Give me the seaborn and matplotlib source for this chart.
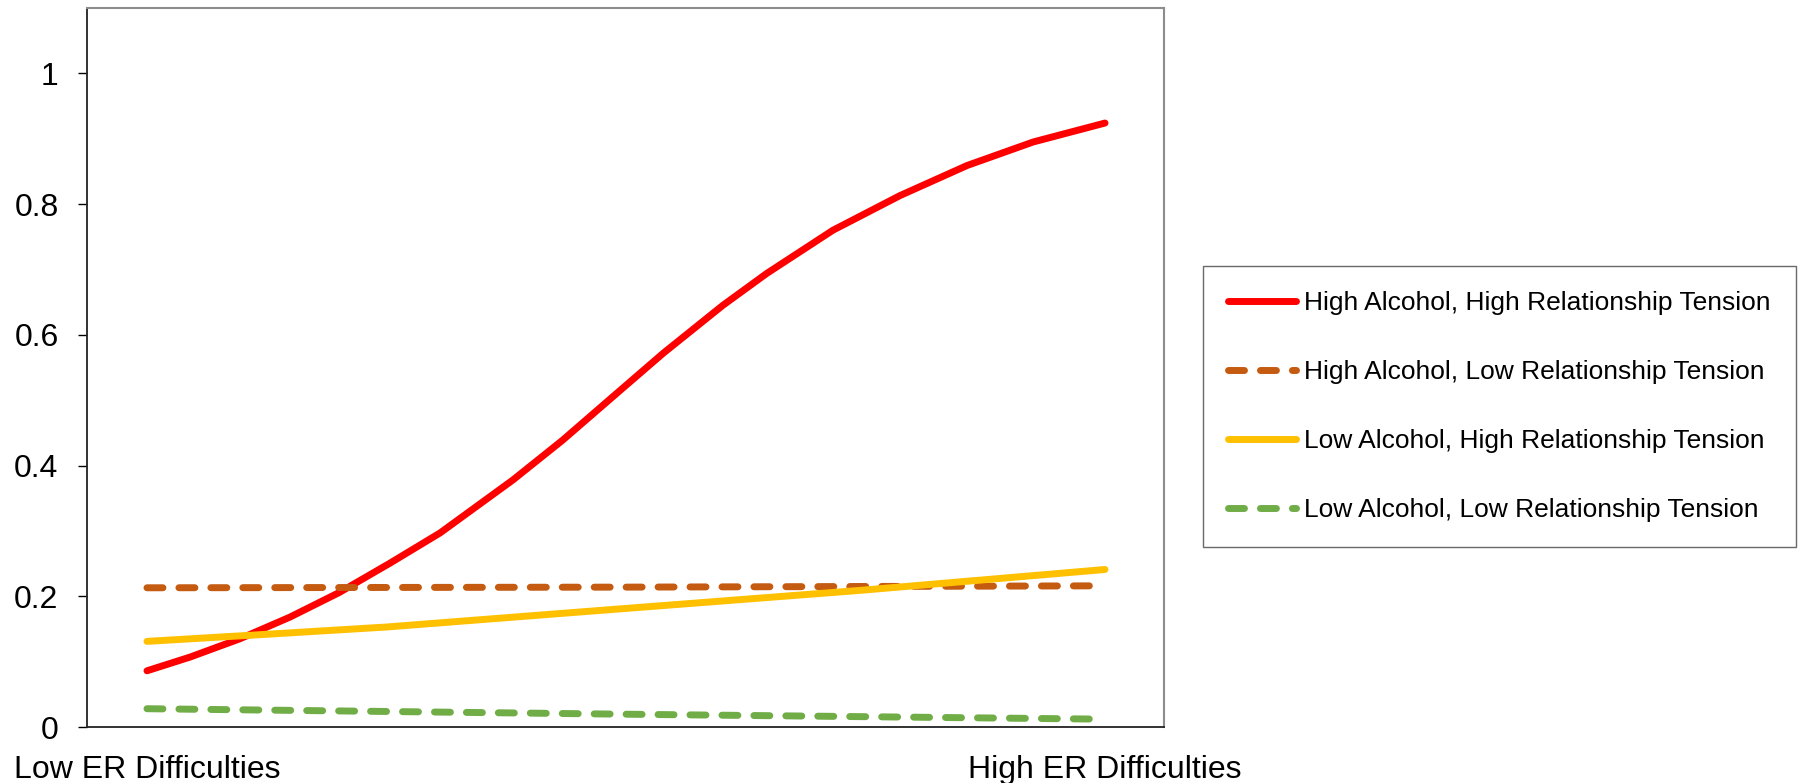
import matplotlib
matplotlib.use("Agg")
import matplotlib.pyplot as plt
import numpy as np
import pandas as pd
import seaborn as sns

# values (x: 0 = Low ER Difficulties, 1 = High ER Difficulties)
red_x = [0, 0.045, 0.097, 0.149, 0.201, 0.254, 0.306, 0.382, 0.434, 0.486,
         0.539, 0.601, 0.647, 0.716, 0.786, 0.856, 0.925, 1.0]
red_y = [0.086, 0.107, 0.135, 0.168, 0.206, 0.251, 0.297, 0.378, 0.439, 0.505,
         0.572, 0.645, 0.694, 0.760, 0.813, 0.859, 0.895, 0.924]
orange_x = [0, 0.5, 1.0]
orange_y = [0.213, 0.214, 0.216]
yellow_x = [0, 0.115, 0.25, 0.452, 0.744, 1.0]
yellow_y = [0.131, 0.141, 0.153, 0.176, 0.209, 0.241]
green_x = [0, 0.473, 1.0]
green_y = [0.028, 0.020, 0.012]

labels = ["High Alcohol, High Relationship Tension",
          "High Alcohol, Low Relationship Tension",
          "Low Alcohol, High Relationship Tension",
          "Low Alcohol, Low Relationship Tension"]
colors = ["#FF0000", "#C55A11", "#FFC000", "#70AD47"]
tick_labels = ["Low ER Difficulties", "High ER Difficulties"]

sns.set_style("white")
plt.rcParams['font.family'] = ['Liberation Sans', 'DejaVu Sans']

fig = plt.figure(figsize=(18.05, 7.83), dpi=100)
ax = fig.add_axes([0.0482, 0.0715, 0.5967, 0.9183])

series = [(red_x, red_y, "-"), (orange_x, orange_y, (0, (2.3, 2.3))),
          (yellow_x, yellow_y, "-"), (green_x, green_y, (0, (2.3, 2.3)))]
for (xs, ys, ls), lab, col in zip(series, labels, colors):
    sns.lineplot(x=xs, y=ys, ax=ax, color=col, linewidth=5, linestyle=ls,
                 label=lab, solid_capstyle="round", dash_capstyle="round",
                 solid_joinstyle="round")

ax.set_xlim(-0.0626, 1.0616)
ax.set_ylim(0, 1.1)
ax.set_yticks([0, 0.2, 0.4, 0.6, 0.8, 1.0])
ax.set_yticklabels(["0", "0.2", "0.4", "0.6", "0.8", "1"])
ax.set_xticks([0, 1])
ax.set_xticklabels(tick_labels)
ax.tick_params(axis="y", left=True, length=6.5, width=1, color="black",
               labelsize=23, pad=14, labelcolor="black")
ax.tick_params(axis="x", bottom=False, length=0, labelsize=23, pad=20,
               labelcolor="black")

for side in ["left", "bottom"]:
    ax.spines[side].set_color("#222222")
    ax.spines[side].set_linewidth(1.3)
for side in ["top", "right"]:
    ax.spines[side].set_color("#8c8c8c")
    ax.spines[side].set_linewidth(1.5)

leg = ax.legend(loc="center left", bbox_to_anchor=(0.6665, 0.4808),
                bbox_transform=fig.transFigure, fontsize=19, frameon=True,
                fancybox=False, handlelength=2.58, handletextpad=0.3,
                labelspacing=1.71, borderpad=0.95, borderaxespad=0)
leg.get_frame().set_edgecolor("#444444")
leg.get_frame().set_linewidth(1.0)
for t in leg.get_texts():
    t.set_color("black")

plt.savefig("out.png", dpi=100)
